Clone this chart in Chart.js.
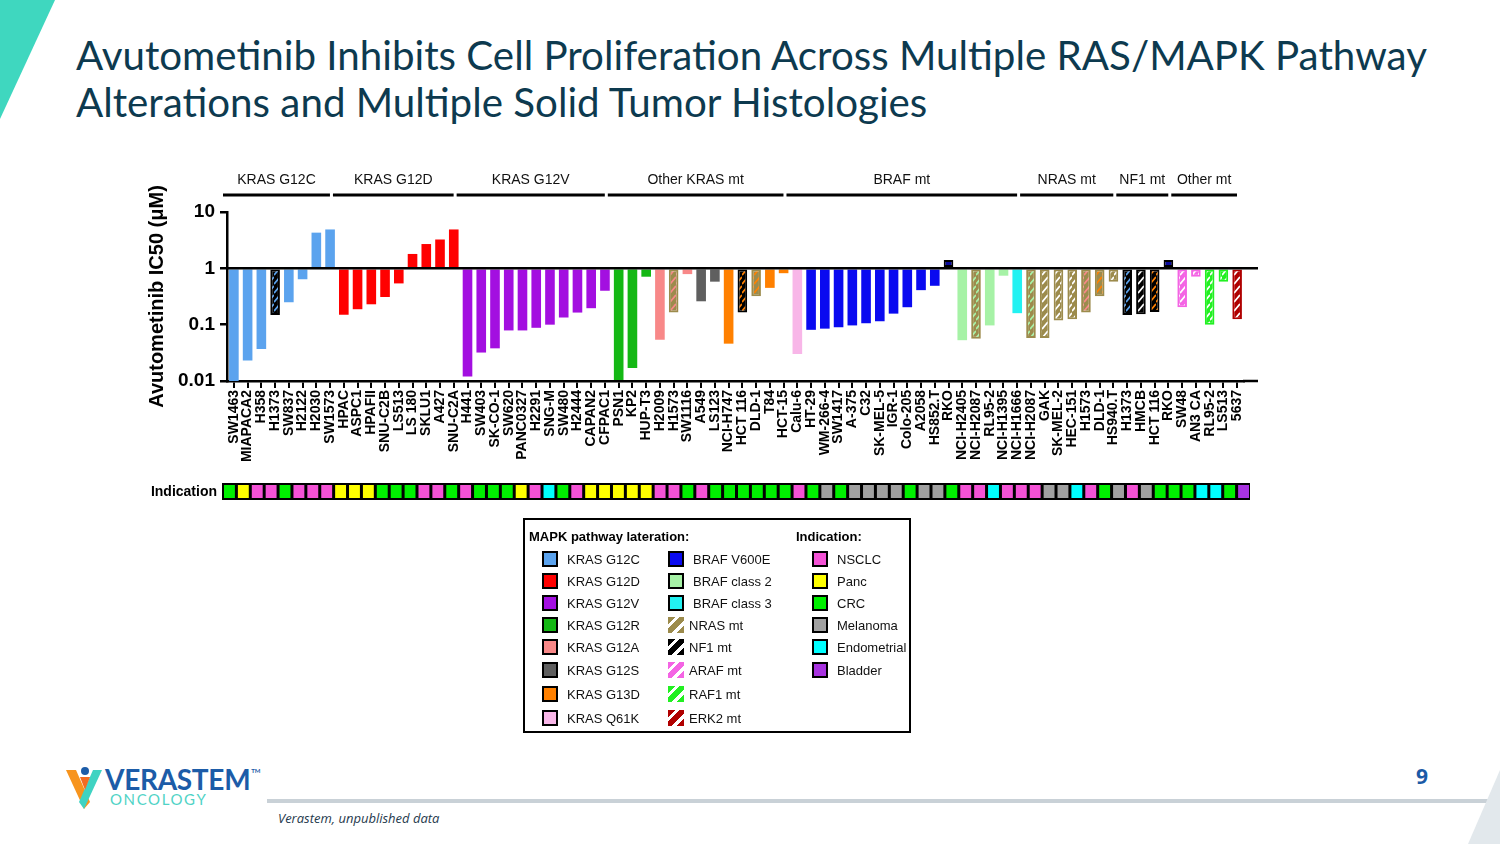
<!DOCTYPE html>
<html>
<head>
<meta charset="utf-8">
<script src="https://cdn.jsdelivr.net/npm/chart.js@4.4.0/dist/chart.umd.min.js"></script>
<style>
  body { margin: 0; width: 1500px; height: 844px; position: relative; overflow: hidden; background: #fff;
         font-family: "Liberation Sans", Arial, sans-serif; }
  .abs { position: absolute; }
  #title { left: 76px; top: 31px; font-family: Lato, "Open Sans", sans-serif; font-size: 40.3px; line-height: 47px;
           color: #0d3a4f; white-space: nowrap; }
  #chartBox { left: 130px; top: 150px; width: 1140px; height: 370px; }
  #legend { left: 523px; top: 518px; width: 384px; height: 211px; border: 2.5px solid #000; }
  .lg-head { position: absolute; font-weight: bold; font-size: 13px; color: #000; }
  .lg-row { position: absolute; height: 16px; display: flex; align-items: center; font-size: 13px; color: #111; }
  .sw { width: 12px; height: 12px; border: 2px solid #000; margin-right: 9px; flex: none; }
  .sw.hatch { border: none; width: 16px; height: 16px; margin-right: 5px; }
  #pageNum { left: 1416px; top: 762px; font-family: "Open Sans", sans-serif; font-weight: bold; font-size: 21px; color: #1b5aa6; }
  #source { left: 278px; top: 809px; font-family: "Open Sans", sans-serif; font-style: italic; font-size: 13px; color: #1f3a4d; }
  #brand { left: 105px; top: 762px; font-family: Lato, sans-serif; font-weight: bold; font-size: 28px; color: #1c5ca8; letter-spacing: -0.3px; }
  #brand sup { font-size: 6px; vertical-align: top; position: relative; top: 5px; left: 1px; }
  #sub { left: 110px; top: 790px; font-family: Lato, sans-serif; font-size: 15px; color: #4fd3c6; letter-spacing: 1.6px; }
</style>
</head>
<body>
<svg class="abs" style="left:0;top:0" width="1500" height="844">
  <polygon points="0,0 55,0 0,119" fill="#3fd7bf"/>
  <rect x="267" y="799" width="1233" height="4" fill="#c9d1d7"/>
  <polygon points="1468,844 1500,770 1500,844" fill="#e2e8ec"/>
  <polygon points="66,770 76,770 90,802 84,809" fill="#f7941d"/>
  <polygon points="102,770 93,770 79,802 84,809" fill="#3fd3c2"/>
  <polygon points="80,777 90,777 85,790" fill="#f26b21"/>
  <circle cx="85" cy="771" r="4" fill="#1c5ca8"/>
</svg>
<div id="title" class="abs">Avutometinib Inhibits Cell Proliferation Across Multiple RAS/MAPK Pathway<br>Alterations and Multiple Solid Tumor Histologies</div>
<div id="chartBox" class="abs"><canvas id="ic50Chart" width="1140" height="370"></canvas></div>
<div id="legend" class="abs"></div>
<div id="brand" class="abs">VERASTEM<sup>TM</sup></div>
<div id="sub" class="abs">ONCOLOGY</div>
<div id="pageNum" class="abs">9</div>
<div id="source" class="abs">Verastem, unpublished data</div>

<script>
// cell lines in plot order
const cellLines = [
  'SW1463', 'MIAPACA2', 'H358', 'H1373', 'SW837', 'H2122', 'H2030', 'SW1573',
  'HPAC', 'ASPC1', 'HPAFII', 'SNU-C2B', 'LS513', 'LS 180', 'SKLU1', 'A427', 'SNU-C2A',
  'H441', 'SW403', 'SK-CO-1', 'SW620', 'PANC0327', 'H2291', 'SNG-M', 'SW480', 'H2444', 'CAPAN2', 'CFPAC1',
  'PSN1', 'KP2', 'HUP-T3', 'H2009', 'H1573', 'SW1116', 'A549', 'LS123', 'NCI-H747', 'HCT 116', 'DLD-1', 'T84', 'HCT-15',
  'Calu-6', 'HT-29', 'WM-266-4', 'SW1417', 'A-375', 'C32', 'SK-MEL-5', 'IGR-1', 'Colo-205', 'A2058', 'HS852.T', 'RKO',
  'NCI-H2405', 'NCI-H2087', 'RL95-2', 'NCI-H1395', 'NCI-H1666',
  'NCI-H2087', 'GAK', 'SK-MEL-2', 'HEC-151', 'H1573', 'DLD-1', 'HS940.T',
  'H1373', 'HMCB', 'HCT 116', 'RKO',
  'SW48', 'AN3 CA', 'RL95-2', 'LS513', '5637'
];

// IC50 (uM)
const ic50 = [
  0.01, 0.023, 0.037, 0.149, 0.25, 0.64, 4.3, 4.9,
  0.15, 0.188, 0.23, 0.31, 0.54, 1.8, 2.7, 3.25, 4.9,
  0.012, 0.032, 0.038, 0.079, 0.079, 0.088, 0.1, 0.134, 0.164, 0.196, 0.40,
  0.0104, 0.017, 0.71, 0.054, 0.164, 0.79, 0.26, 0.58, 0.046, 0.164, 0.32, 0.45, 0.82,
  0.030, 0.081, 0.085, 0.09, 0.097, 0.106, 0.115, 0.157, 0.204, 0.41, 0.49, 1.4,
  0.053, 0.056, 0.097, 0.74, 0.16,
  0.058, 0.058, 0.118, 0.125, 0.164, 0.32, 0.58,
  0.149, 0.153, 0.168, 1.4,
  0.204, 0.71, 0.10, 0.58, 0.125
];

// alteration shown by each bar, and the co-mutation drawn as hatch colour (null = white)
const alteration = [
  'KRAS G12C', 'KRAS G12C', 'KRAS G12C', 'NF1 mt', 'KRAS G12C', 'KRAS G12C', 'KRAS G12C', 'KRAS G12C',
  'KRAS G12D', 'KRAS G12D', 'KRAS G12D', 'KRAS G12D', 'KRAS G12D', 'KRAS G12D', 'KRAS G12D', 'KRAS G12D', 'KRAS G12D',
  'KRAS G12V', 'KRAS G12V', 'KRAS G12V', 'KRAS G12V', 'KRAS G12V', 'KRAS G12V', 'KRAS G12V', 'KRAS G12V', 'KRAS G12V', 'KRAS G12V', 'KRAS G12V',
  'KRAS G12R', 'KRAS G12R', 'KRAS G12R', 'KRAS G12A', 'NRAS mt', 'KRAS G12A', 'KRAS G12S', 'KRAS G12S', 'KRAS G13D', 'NF1 mt', 'NRAS mt', 'KRAS G13D', 'KRAS G13D',
  'KRAS Q61K', 'BRAF V600E', 'BRAF V600E', 'BRAF V600E', 'BRAF V600E', 'BRAF V600E', 'BRAF V600E', 'BRAF V600E', 'BRAF V600E', 'BRAF V600E', 'BRAF V600E', 'BRAF V600E',
  'BRAF class 2', 'NRAS mt', 'BRAF class 2', 'BRAF class 2', 'BRAF class 3',
  'NRAS mt', 'NRAS mt', 'NRAS mt', 'NRAS mt', 'NRAS mt', 'NRAS mt', 'NRAS mt',
  'NF1 mt', 'NF1 mt', 'NF1 mt', 'BRAF V600E',
  'ARAF mt', 'ARAF mt', 'RAF1 mt', 'RAF1 mt', 'ERK2 mt'
];
const coMutation = [
  null, null, null, 'KRAS G12C', null, null, null, null,
  null, null, null, null, null, null, null, null, null,
  null, null, null, null, null, null, null, null, null, null, null,
  null, null, null, null, 'KRAS G12A', null, null, null, null, 'KRAS G13D', 'KRAS G13D', null, null,
  null, null, null, null, null, null, null, null, null, null, null, 'outline',
  null, 'BRAF class 2', null, null, null,
  'BRAF class 2', null, null, null, 'KRAS G12A', 'KRAS G13D', null,
  'KRAS G12C', null, 'KRAS G13D', 'outline',
  null, null, null, null, null
];

const indication = [
  'CRC', 'Panc', 'NSCLC', 'NSCLC', 'CRC', 'NSCLC', 'NSCLC', 'NSCLC',
  'Panc', 'Panc', 'Panc', 'CRC', 'CRC', 'CRC', 'NSCLC', 'NSCLC', 'CRC',
  'NSCLC', 'CRC', 'CRC', 'CRC', 'Panc', 'NSCLC', 'Endometrial', 'CRC', 'NSCLC', 'Panc', 'Panc',
  'Panc', 'Panc', 'Panc', 'NSCLC', 'NSCLC', 'CRC', 'NSCLC', 'CRC', 'CRC', 'CRC', 'CRC', 'CRC', 'CRC',
  'NSCLC', 'CRC', 'Melanoma', 'CRC', 'Melanoma', 'Melanoma', 'Melanoma', 'Melanoma', 'CRC', 'Melanoma', 'Melanoma', 'CRC',
  'NSCLC', 'NSCLC', 'Endometrial', 'NSCLC', 'NSCLC',
  'NSCLC', 'Melanoma', 'Melanoma', 'Endometrial', 'NSCLC', 'CRC', 'Melanoma',
  'NSCLC', 'Melanoma', 'CRC', 'CRC',
  'CRC', 'Endometrial', 'Endometrial', 'CRC', 'Bladder'
];

// bracket groups above the plot: [label, first index, last index]
const groups = [
  ['KRAS G12C', 0, 7], ['KRAS G12D', 8, 16], ['KRAS G12V', 17, 27], ['Other KRAS mt', 28, 40],
  ['BRAF mt', 41, 57], ['NRAS mt', 58, 64], ['NF1 mt', 65, 68], ['Other mt', 69, 73]
];

const yTicks = [0.01, 0.1, 1, 10];
const yTickLabels = ['0.01', '0.1', '1', '10'];

const legendCol1 = ['KRAS G12C', 'KRAS G12D', 'KRAS G12V', 'KRAS G12R', 'KRAS G12A', 'KRAS G12S', 'KRAS G13D', 'KRAS Q61K'];
const legendCol2 = ['BRAF V600E', 'BRAF class 2', 'BRAF class 3', 'NRAS mt', 'NF1 mt', 'ARAF mt', 'RAF1 mt', 'ERK2 mt'];
const legendCol3 = ['NSCLC', 'Panc', 'CRC', 'Melanoma', 'Endometrial', 'Bladder'];

const altColors = {
  'KRAS G12C': '#5ba3ee', 'KRAS G12D': '#ff0000', 'KRAS G12V': '#a30fe0', 'KRAS G12R': '#14b814',
  'KRAS G12A': '#f88888', 'KRAS G12S': '#5f5f5f', 'KRAS G13D': '#ff8000', 'KRAS Q61K': '#f8b6e8',
  'BRAF V600E': '#0a0af0', 'BRAF class 2': '#a6f2a6', 'BRAF class 3': '#22f2f2',
  'NRAS mt': '#9c8b4c', 'NF1 mt': '#000000', 'ARAF mt': '#f464e4', 'RAF1 mt': '#22f022', 'ERK2 mt': '#b00000'
};
const hatched = ['NRAS mt', 'NF1 mt', 'ARAF mt', 'RAF1 mt', 'ERK2 mt'];
const indColors = {
  'NSCLC': '#f452d6', 'Panc': '#ffff00', 'CRC': '#00f000', 'Melanoma': '#a0a0a0', 'Endometrial': '#00ffff', 'Bladder': '#a833e0'
};

function makeHatch(bg, stripe) {
  const c = document.createElement('canvas');
  c.width = 6; c.height = 9;
  const g = c.getContext('2d');
  g.fillStyle = bg;
  g.fillRect(0, 0, 6, 9);
  g.strokeStyle = stripe;
  g.lineWidth = 1.8;
  g.lineCap = 'round';
  g.beginPath();
  g.moveTo(0.5, 7.5); g.lineTo(5.5, 1.5);
  g.stroke();
  return g.createPattern(c, 'repeat');
}

const ctx = document.getElementById('ic50Chart').getContext('2d');

const bgColors = [], borderColors = [], borderWidths = [];
alteration.forEach((alt, i) => {
  const base = altColors[alt];
  const co = coMutation[i];
  if (hatched.includes(alt)) {
    bgColors.push(makeHatch(base, co ? altColors[co] : '#ffffff'));
    borderColors.push(base);
    borderWidths.push(2);
  } else if (co === 'outline') {
    bgColors.push('#0a0aa0');
    borderColors.push('#000000');
    borderWidths.push(2);
  } else {
    bgColors.push(base);
    borderColors.push(base);
    borderWidths.push(0);
  }
});

const overlay = {
  id: 'overlay',
  afterDatasetsDraw(chart) {
    const { ctx, chartArea, scales: { x, y } } = chart;
    const step = x.getPixelForValue(1) - x.getPixelForValue(0);
    ctx.save();
    ctx.strokeStyle = '#000';
    // line at IC50 = 1 and axis extension on the right
    ctx.lineWidth = 2.5;
    const y1 = y.getPixelForValue(1);
    ctx.beginPath();
    ctx.moveTo(chartArea.left, y1); ctx.lineTo(chartArea.right + 14, y1);
    ctx.moveTo(chartArea.right - 1, chartArea.bottom); ctx.lineTo(chartArea.right + 14, chartArea.bottom);
    ctx.stroke();

    // group brackets
    ctx.lineWidth = 3;
    ctx.font = '14px "Liberation Sans", Arial, sans-serif';
    ctx.fillStyle = '#111';
    ctx.textAlign = 'center';
    ctx.textBaseline = 'middle';
    groups.forEach(([label, a, b]) => {
      const l = x.getPixelForValue(a) - step / 2 - 4;
      const r = x.getPixelForValue(b) + step / 2 - 7;
      ctx.beginPath();
      ctx.moveTo(l, chartArea.top - 17); ctx.lineTo(r, chartArea.top - 17);
      ctx.stroke();
      ctx.fillText(label, (l + r) / 2, chartArea.top - 32);
    });

    // indication strip
    const top = chartArea.bottom + 102, h = 17;
    const left = x.getPixelForValue(0) - step / 2 - 5;
    const right = x.getPixelForValue(indication.length - 1) + step / 2 + 6;
    ctx.fillStyle = '#000';
    ctx.fillRect(left, top, right - left, h);
    const cw = (right - left) / indication.length;
    indication.forEach((ind, i) => {
      ctx.fillStyle = indColors[ind];
      ctx.fillRect(left + i * cw + 2, top + 2, cw - 3, h - 4);
    });
    ctx.font = 'bold 14px "Liberation Sans", Arial, sans-serif';
    ctx.fillStyle = '#000';
    ctx.textAlign = 'right';
    ctx.fillText('Indication', left - 5, top + h / 2 + 1);
    ctx.restore();
  }
};

new Chart(ctx, {
  type: 'bar',
  data: {
    labels: cellLines,
    datasets: [{
      data: ic50,
      base: 1,
      backgroundColor: bgColors,
      borderColor: borderColors,
      borderWidth: borderWidths,
      borderSkipped: false,
      barPercentage: 0.7,
      categoryPercentage: 1
    }]
  },
  options: {
    responsive: false,
    animation: false,
    layout: { padding: { left: 0, right: 26, top: 62, bottom: 0 } },
    plugins: { legend: { display: false }, tooltip: { enabled: false } },
    scales: {
      x: {
        afterFit: (s) => { s.height = 139; },
        grid: { drawOnChartArea: false, offset: false, tickLength: 7, color: '#000', lineWidth: 2 },
        border: { color: '#000', width: 2.5 },
        ticks: {
          autoSkip: false, minRotation: 90, maxRotation: 90, padding: 2, color: '#000',
          font: { family: '"Liberation Sans", Arial, sans-serif', weight: 'bold', size: 14 }
        }
      },
      y: {
        type: 'logarithmic',
        min: 0.01,
        max: 10,
        afterFit: (s) => { s.width = 97; },
        afterBuildTicks: (s) => { s.ticks = yTicks.map(v => ({ value: v })); },
        grid: { drawOnChartArea: false, tickLength: 7, color: '#000', lineWidth: 2.5 },
        border: { color: '#000', width: 2.5 },
        ticks: {
          padding: 5, color: '#000',
          font: { family: '"Liberation Sans", Arial, sans-serif', weight: 'bold', size: 19 },
          callback: (v) => yTickLabels[yTicks.indexOf(v)] ?? ''
        },
        title: {
          display: true, text: 'Avutometinib IC50 (\u03bcM)', color: '#000', padding: { top: 15, bottom: 0 },
          font: { family: '"Liberation Sans", Arial, sans-serif', weight: 'bold', size: 20 }
        }
      }
    }
  },
  plugins: [overlay]
});

// legend box
const legend = document.getElementById('legend');
function head(text, x) {
  const d = document.createElement('div');
  d.className = 'lg-head';
  d.textContent = text;
  d.style.left = x + 'px'; d.style.top = '9px';
  legend.appendChild(d);
}
function row(text, color, isHatch, x, y) {
  const d = document.createElement('div');
  d.className = 'lg-row';
  d.style.left = x + 'px'; d.style.top = y + 'px';
  const sw = document.createElement('span');
  sw.className = 'sw' + (isHatch ? ' hatch' : '');
  sw.style.background = isHatch
    ? `linear-gradient(135deg, ${color} 0 22%, #fff 22% 36%, ${color} 36% 62%, #fff 62% 76%, ${color} 76%)`
    : color;
  d.appendChild(sw);
  d.appendChild(document.createTextNode(text));
  legend.appendChild(d);
}
head('MAPK pathway lateration:', 4);
head('Indication:', 271);
const rowTops = [31, 53, 75, 97, 119, 142, 166, 190];
legendCol1.forEach((k, i) => row(k, altColors[k], false, 17, rowTops[i]));
legendCol2.forEach((k, i) => row(k, altColors[k], hatched.includes(k), 143, rowTops[i]));
legendCol3.forEach((k, i) => row(k, indColors[k], false, 287, rowTops[i]));
</script>
</body>
</html>
